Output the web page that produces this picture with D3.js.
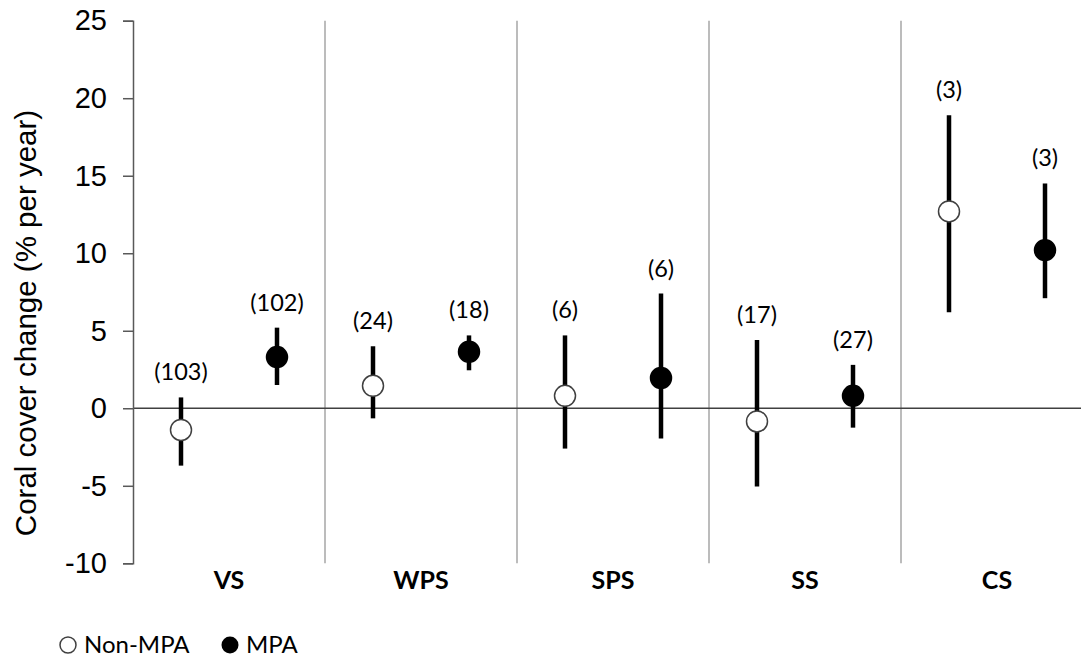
<!DOCTYPE html>
<html>
<head>
<meta charset="utf-8">
<script src="https://cdn.jsdelivr.net/npm/d3@7"></script>
<style>
  body { margin: 0; background: #fff; }
  svg { display: block; }
</style>
</head>
<body>
<svg></svg>
<script>
// regions on the x axis
const regions = ['VS', 'WPS', 'SPS', 'SS', 'CS']
const groups = ['Non-MPA', 'MPA']

// mean change per year, one value per region
const nonMpaMean = [-1.4, 1.45, 0.8, -0.85, 12.7]
const nonMpaLow  = [-3.7, -0.65, -2.6, -5.05, 6.2]
const nonMpaHigh = [0.7, 4.0, 4.7, 4.4, 18.9]
const nonMpaN    = [103, 24, 6, 17, 3]

const mpaMean = [3.3, 3.65, 1.95, 0.8, 10.2]
const mpaLow  = [1.5, 2.45, -1.95, -1.25, 7.1]
const mpaHigh = [5.2, 4.7, 7.4, 2.8, 14.5]
const mpaN    = [102, 18, 6, 27, 3]

const yTicks = [-10, -5, 0, 5, 10, 15, 20, 25]

var width = 1081
var height = 661

var svg = d3.select('svg')
  .attr('width', width)
  .attr('height', height)

// build rows from the arrays
var rows = []
regions.forEach((r, i) => {
  rows.push({ region: r, group: 'Non-MPA', mean: nonMpaMean[i], low: nonMpaLow[i], high: nonMpaHigh[i], n: nonMpaN[i] })
  rows.push({ region: r, group: 'MPA', mean: mpaMean[i], low: mpaLow[i], high: mpaHigh[i], n: mpaN[i] })
})

var x = d3.scaleBand().domain(regions).range([133, 1093]).padding(0)
var x1 = d3.scaleBand().domain(groups).range([0, x.bandwidth()]).padding(0)
var y = d3.scaleLinear().domain([-10, 25]).range([563.3, 20.7])

var cx = d => x(d.region) + x1(d.group) + x1.bandwidth() / 2

// region separators
svg.append('g')
  .selectAll('line')
  .data(regions.slice(1))
  .enter().append('line')
  .attr('x1', d => x(d)).attr('x2', d => x(d))
  .attr('y1', y(25)).attr('y2', y(-10))
  .attr('stroke', '#a6a6a6')
  .attr('stroke-width', 1.5)

// zero line
svg.append('line')
  .attr('x1', 133).attr('x2', width)
  .attr('y1', y(0)).attr('y2', y(0))
  .attr('stroke', '#404040')
  .attr('stroke-width', 1.5)

// y axis (plain hyphen for negatives, like the original)
var yAxis = svg.append('g')
  .attr('transform', 'translate(133,0)')
  .call(d3.axisLeft(y).tickValues(yTicks).tickFormat(d => String(d)).tickSize(10).tickPadding(16))
yAxis.select('.domain').attr('stroke', '#595959').attr('stroke-width', 1.5)
yAxis.selectAll('.tick line').attr('stroke', '#595959').attr('stroke-width', 1.5)
yAxis.selectAll('.tick text')
  .attr('font-family', 'Liberation Sans, Arial, sans-serif')
  .attr('font-size', 29)
  .attr('fill', '#000')

svg.append('text')
  .attr('transform', 'translate(36,323) rotate(-90)')
  .attr('text-anchor', 'middle')
  .attr('font-family', 'Liberation Sans, Arial, sans-serif')
  .attr('font-size', 29.5)
  .text('Coral cover change (% per year)')

// region labels
svg.append('g')
  .selectAll('text')
  .data(regions)
  .enter().append('text')
  .attr('x', d => x(d) + x.bandwidth() / 2)
  .attr('y', 589)
  .attr('text-anchor', 'middle')
  .attr('font-family', 'Lato, sans-serif')
  .attr('font-weight', 'bold')
  .attr('font-size', 25)
  .text(d => d)

// error bars
svg.append('g')
  .selectAll('line')
  .data(rows)
  .enter().append('line')
  .attr('x1', cx).attr('x2', cx)
  .attr('y1', d => y(d.low)).attr('y2', d => y(d.high))
  .attr('stroke', '#000')
  .attr('stroke-width', 4.5)

// points
svg.append('g')
  .selectAll('circle')
  .data(rows)
  .enter().append('circle')
  .attr('cx', cx)
  .attr('cy', d => y(d.mean))
  .attr('r', 10.5)
  .attr('fill', d => d.group === 'MPA' ? '#000' : '#fff')
  .attr('stroke', d => d.group === 'MPA' ? '#000' : '#404040')
  .attr('stroke-width', 1.5)

// sample sizes
svg.append('g')
  .selectAll('text')
  .data(rows)
  .enter().append('text')
  .attr('x', cx)
  .attr('y', d => y(d.high) - 17)
  .attr('text-anchor', 'middle')
  .attr('font-family', 'Lato, sans-serif')
  .attr('font-size', 23.5)
  .text(d => '(' + d.n + ')')

// legend
var legend = svg.append('g').attr('transform', 'translate(0,645)')
legend.append('circle').attr('cx', 68).attr('cy', 0).attr('r', 8)
  .attr('fill', '#fff').attr('stroke', '#404040').attr('stroke-width', 1.5)
legend.append('text').attr('x', 84).attr('y', 8)
  .attr('font-family', 'Lato, sans-serif').attr('font-size', 24)
  .text('Non-MPA')
legend.append('circle').attr('cx', 230).attr('cy', 0).attr('r', 8.5)
  .attr('fill', '#000')
legend.append('text').attr('x', 246).attr('y', 8)
  .attr('font-family', 'Lato, sans-serif').attr('font-size', 24)
  .text('MPA')
</script>
</body>
</html>
